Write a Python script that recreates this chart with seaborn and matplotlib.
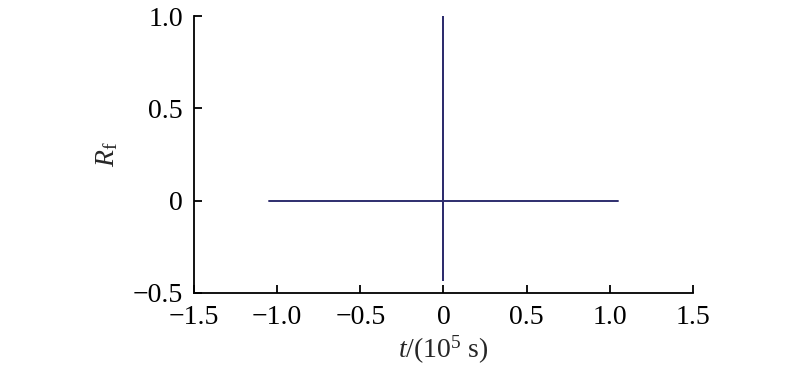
import matplotlib
matplotlib.use("Agg")
import matplotlib.pyplot as plt
import seaborn as sns
import pandas as pd
from matplotlib.ticker import FuncFormatter, FixedLocator

# data (t in 1e5 s, autocorrelation Rf)
t_vals = [-1.05, 0.0, 0.0, 0.0, 0.0, 1.05]
rf_vals = [0.0, 0.0, 1.0, -0.43, 0.0, 0.0]
x_ticks = [-1.5, -1.0, -0.5, 0.0, 0.5, 1.0, 1.5]
y_ticks = [-0.5, 0.0, 0.5, 1.0]

sns.set_theme(style="ticks")
plt.rcParams['font.family'] = ['Liberation Serif', 'DejaVu Serif']
plt.rcParams['mathtext.fontset'] = 'custom'
plt.rcParams['mathtext.rm'] = 'Liberation Serif'
plt.rcParams['mathtext.it'] = 'Liberation Serif:italic'
plt.rcParams['mathtext.bf'] = 'Liberation Serif:bold'

df = pd.DataFrame({"t": t_vals, "Rf": rf_vals})

fig = plt.figure(figsize=(8, 3.66), dpi=100)
ax = fig.add_axes([0.2425, 0.1995, 0.6237, 0.7565])
sns.lineplot(data=df, x="t", y="Rf", sort=False, estimator=None,
             color="#2e2d6e", linewidth=1.4, ax=ax)

ax.set_xlim(-1.5, 1.5)
ax.set_ylim(-0.5, 1.0)
ax.xaxis.set_major_locator(FixedLocator(x_ticks))
ax.yaxis.set_major_locator(FixedLocator(y_ticks))
fmt = FuncFormatter(lambda v, p: "0" if abs(v) < 1e-9 else ("%.1f" % v).replace("-", "\u2212"))
ax.xaxis.set_major_formatter(fmt)
ax.yaxis.set_major_formatter(fmt)

for s in ["top", "right"]:
    ax.spines[s].set_visible(False)
for s in ["left", "bottom"]:
    ax.spines[s].set_linewidth(1.3)
    ax.spines[s].set_color("black")
ax.tick_params(direction="in", length=6, width=1.3, labelsize=20,
               colors="black")
ax.tick_params(axis="x", pad=9)
ax.tick_params(axis="y", pad=8)

ax.set_xlabel(r"$t$/(10$^5$ s)", fontsize=20)
ax.set_ylabel(r"$R_\mathrm{f}$", fontsize=20)
ax.xaxis.set_label_coords(0.5, -0.148)
ax.yaxis.set_label_coords(-0.148, 0.5)

fig.savefig("out.png", dpi=100, facecolor="white")
